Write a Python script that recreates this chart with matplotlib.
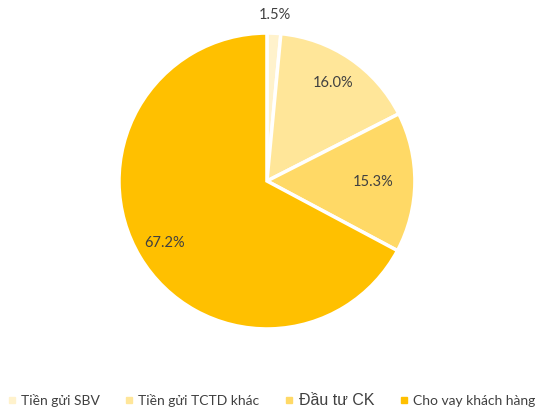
import numpy as np
import matplotlib.pyplot as plt
from matplotlib.lines import Line2D

# Asset structure shares (%)
labels = ['Tiền gửi SBV', 'Tiền gửi TCTD khác', 'Đầu tư CK', 'Cho vay khách hàng']
values = [1.5, 16.0, 15.3, 67.2]
colors = ['#FFF2CC', '#FFE699', '#FFD966', '#FFC000']
label_dist = [1.12, 0.80, 0.72, 0.81]

fig = plt.figure(figsize=(5.38, 4.13), dpi=100)
ax = fig.add_axes([0.2212, 0.2034, 0.550, 0.7167])

ax.pie(values, colors=colors, startangle=90, counterclock=False,
       wedgeprops=dict(edgecolor='white', linewidth=2.5))
ax.set_xlim(-1, 1)
ax.set_ylim(-1, 1)
ax.set_aspect('equal')

# percentage labels at each slice's mid angle
total = sum(values)
start = 90.0
for v, d in zip(values, label_dist):
    span = 360.0 * v / total
    mid = np.deg2rad(start - span / 2)
    ax.text(d * np.cos(mid), d * np.sin(mid), f'{v:.1f}%',
            ha='center', va='center', fontsize=10.5, color='#404040',
            family='Lato', clip_on=False)
    start -= span

handles = [Line2D([0], [0], marker='s', linestyle='', markersize=4,
                  markerfacecolor=c, markeredgecolor=c) for c in colors]
leg = fig.legend(handles, labels, loc='lower center', ncol=4, frameon=False,
                 bbox_to_anchor=(0.505, -0.015), handlelength=0.5, handletextpad=0.4,
                 columnspacing=1.9, borderpad=0.3,
                 prop={'family': 'Lato', 'size': 10})
for t in leg.get_texts():
    t.set_color('#404040')
leg.get_texts()[2].set_fontfamily('Liberation Sans')
leg.get_texts()[2].set_fontsize(11.5)

fig.savefig('out.png', dpi=100)
